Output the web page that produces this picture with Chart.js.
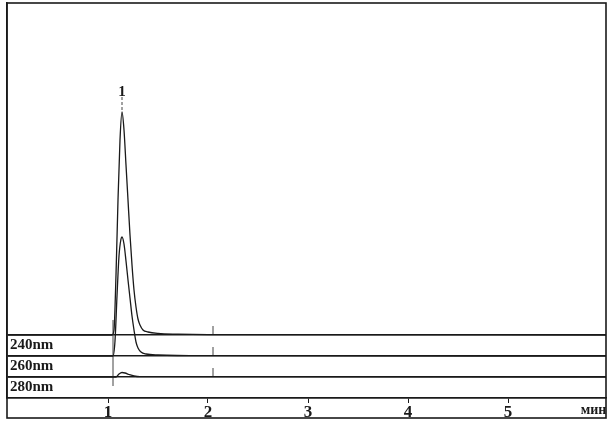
<!DOCTYPE html>
<html>
<head>
<meta charset="utf-8">
<script src="https://cdn.jsdelivr.net/npm/chart.js@4.4.1/dist/chart.umd.min.js"></script>
<style>
  html, body { margin: 0; padding: 0; background: #fff; }
  canvas { display: block; }
</style>
</head>
<body>
<canvas id="chroma" width="613" height="425"></canvas>
<script>
// detector channels, top band first
const channels = ['240nm', '260nm', '280nm'];
const xTicks = [1, 2, 3, 4, 5];
const xUnit = 'мин';

// peak annotation
const peakNames = ['1'];
const peakTimes = [1.14];

// injection / event marks (min)
const markTimes = [1.05, 2.05];

// traces: time (min) and signal above own baseline
const time240 = [0, 1.04, 1.06, 1.08, 1.10, 1.12, 1.14, 1.16, 1.18, 1.20, 1.22, 1.24, 1.26, 1.28, 1.30, 1.32, 1.35, 1.40, 1.50, 1.70, 2.00, 6];
const signal240 = [0, 0, 5, 60, 135, 195, 223, 205, 170, 135, 100, 70, 45, 28, 16, 10, 5, 3, 1.5, 0.8, 0.4, 0];

const time260 = [0, 1.05, 1.07, 1.09, 1.11, 1.13, 1.14, 1.16, 1.18, 1.20, 1.22, 1.24, 1.26, 1.28, 1.30, 1.33, 1.38, 1.50, 2.00, 6];
const signal260 = [0, 0, 15, 60, 100, 117, 119, 112, 95, 76, 58, 40, 26, 14, 8, 4, 2, 1, 0.3, 0];

const time280 = [0, 1.08, 1.11, 1.14, 1.17, 1.21, 1.26, 1.32, 6];
const signal280 = [0, 0, 3, 4.5, 4, 2.5, 1, 0.3, 0];

const ink = '#1a1a1a';
const serif = '"Liberation Serif", "DejaVu Serif", serif';
const band = 21;
const yMax = 395;
const baseOf = (i) => band * (channels.length - i);

const traces = [
    [time240, signal240],
    [time260, signal260],
    [time280, signal280],
];

const traceSets = traces.map(([t, s], i) => ({
    label: channels[i],
    data: t.map((v, k) => ({ x: v, y: baseOf(i) + s[k] })),
    borderColor: ink,
    borderWidth: 1.3,
    pointRadius: 0,
    cubicInterpolationMode: 'monotone',
    fill: false,
}));

// event marks: long one at injection, short ticks on each baseline later
const markData = [
    { x: markTimes[0], y: 12 },
    { x: markTimes[0], y: baseOf(0) + 15 },
    { x: markTimes[0], y: null },
];
channels.forEach((c, i) => {
    markData.push({ x: markTimes[1], y: baseOf(i) });
    markData.push({ x: markTimes[1], y: baseOf(i) + 9 });
    markData.push({ x: markTimes[1], y: null });
});

const peakLineData = [];
peakTimes.forEach((t) => {
    peakLineData.push({ x: t, y: 288 }, { x: t, y: 301 }, { x: t, y: null });
});

const noPad = (scale) => {
    scale.width = 0;
    scale.paddingTop = 0;
    scale.paddingBottom = 0;
};

const frameAndLabels = {
    id: 'frameAndLabels',
    afterDraw(chart) {
        const { ctx, chartArea, scales } = chart;
        ctx.save();
        ctx.strokeStyle = ink;
        ctx.lineWidth = 1.6;
        ctx.strokeRect(chartArea.left, chartArea.top,
            chartArea.right - chartArea.left, scales.x.bottom - chartArea.top);
        ctx.fillStyle = ink;
        ctx.font = 'bold 15px ' + serif;
        ctx.textAlign = 'center';
        ctx.textBaseline = 'alphabetic';
        peakNames.forEach((name, i) => {
            ctx.fillText(name, scales.x.getPixelForValue(peakTimes[i]), scales.y.getPixelForValue(302));
        });
        ctx.restore();
    },
};

new Chart(document.getElementById('chroma'), {
    type: 'line',
    data: {
        datasets: [
            ...traceSets,
            { label: 'marks', data: markData, borderColor: '#444', borderWidth: 1, pointRadius: 0, spanGaps: false },
            { label: 'peak', data: peakLineData, borderColor: '#444', borderWidth: 1, borderDash: [3, 2], pointRadius: 0, spanGaps: false },
        ],
    },
    options: {
        responsive: false,
        animation: false,
        layout: { padding: { left: 7, right: 7, top: 3, bottom: 7 } },
        plugins: { legend: { display: false }, tooltip: { enabled: false } },
        scales: {
            x: {
                type: 'linear',
                min: -0.01,
                max: 5.98,
                afterBuildTicks: (scale) => {
                    scale.ticks = [...xTicks, 5.855].map((v) => ({ value: v }));
                },
                afterFit: (scale) => {
                    scale.height = 20;
                    scale.paddingLeft = 0;
                    scale.paddingRight = 0;
                },
                grid: {
                    drawOnChartArea: false,
                    tickLength: 5,
                    color: (ctx) => (ctx.index < xTicks.length ? ink : 'rgba(0,0,0,0)'),
                },
                border: { display: true, color: ink, width: 1.6 },
                ticks: {
                    autoSkip: false,
                    maxRotation: 0,
                    padding: -1,
                    color: ink,
                    font: (ctx) => (ctx.index < xTicks.length
                        ? { family: serif, size: 17, weight: 'bold' }
                        : { family: serif, size: 14, weight: 'bold' }),
                    callback: (v, i) => (i < xTicks.length ? String(v) : xUnit),
                },
            },
            y: {
                min: 0,
                max: yMax,
                afterBuildTicks: (scale) => {
                    scale.ticks = [0, ...channels.map((c, i) => baseOf(i))].map((v) => ({ value: v }));
                },
                afterFit: noPad,
                grid: { color: ink, lineWidth: 1.5, drawTicks: false },
                border: { display: true, color: ink, width: 1.6 },
                ticks: { display: false },
            },
            yl: {
                position: 'left',
                min: 0,
                max: yMax,
                afterBuildTicks: (scale) => {
                    scale.ticks = channels.map((c, i) => ({ value: baseOf(i) - band / 2 }));
                },
                afterFit: noPad,
                grid: { display: false, drawTicks: false },
                border: { display: false },
                ticks: {
                    mirror: true,
                    padding: 3,
                    color: ink,
                    font: { family: serif, size: 15, weight: 'bold' },
                    callback: (v, i) => channels[i],
                },
            },
        },
    },
    plugins: [frameAndLabels],
});
</script>
</body>
</html>
